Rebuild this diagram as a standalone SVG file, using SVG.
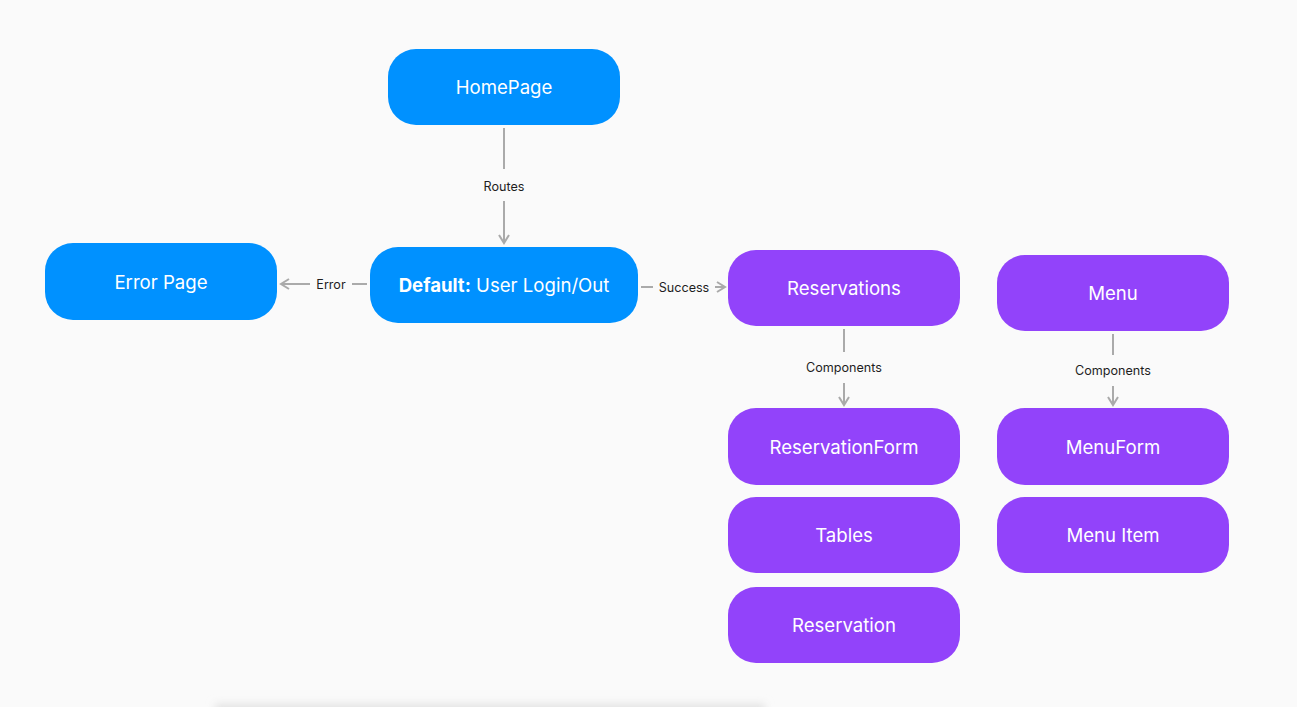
<svg xmlns="http://www.w3.org/2000/svg" width="1297" height="707" viewBox="0 0 1297 707">
<defs>
<style>
.blue{fill:#0091FF}
.purple{fill:#9243FA}
.nt{font-family:Inter,"Noto Sans",sans-serif;font-size:18.6px;fill:#FFFFFF;text-anchor:middle;dominant-baseline:central}
.lt{font-family:Inter,"Noto Sans",sans-serif;font-size:12.6px;fill:#1E1E1E;text-anchor:middle;dominant-baseline:central}
.ln{stroke:#AAAAAA;stroke-width:2;fill:none}
</style>
<marker id="ah" viewBox="0 0 12 12" refX="10" refY="6" markerWidth="12" markerHeight="12" markerUnits="userSpaceOnUse" orient="auto">
<path d="M2,1 L10,6 L2,11" fill="none" stroke="#AAAAAA" stroke-width="2"/>
</marker>
<filter id="blur" x="-10%" y="-200%" width="120%" height="500%">
<feGaussianBlur stdDeviation="4"/>
</filter>
</defs>
<rect width="1297" height="707" fill="#FAFAFA"/>
<rect x="215" y="704" width="550" height="12" fill="#E2E2E2" filter="url(#blur)"/>
<g id="connectors">
<line class="ln" x1="504" y1="128" x2="504" y2="169"/>
<line class="ln" x1="504" y1="201" x2="504" y2="243" marker-end="url(#ah)"/>
<text class="lt" x="504" y="186">Routes</text>
<line class="ln" x1="367" y1="284" x2="352" y2="284"/>
<line class="ln" x1="310" y1="284" x2="281" y2="284" marker-end="url(#ah)"/>
<text class="lt" x="331" y="284">Error</text>
<line class="ln" x1="641" y1="287" x2="653" y2="287"/>
<line class="ln" x1="715" y1="287" x2="725" y2="287" marker-end="url(#ah)"/>
<text class="lt" x="684" y="287">Success</text>
<line class="ln" x1="844" y1="329" x2="844" y2="352"/>
<line class="ln" x1="844" y1="383" x2="844" y2="405" marker-end="url(#ah)"/>
<text class="lt" x="844" y="367">Components</text>
<line class="ln" x1="1113" y1="334" x2="1113" y2="355"/>
<line class="ln" x1="1113" y1="386" x2="1113" y2="405" marker-end="url(#ah)"/>
<text class="lt" x="1113" y="370">Components</text>
</g>
<g id="homepage"><rect class="blue" x="388" y="49" width="232" height="76" rx="28"/><text class="nt" x="504" y="87">HomePage</text></g>
<g id="default"><rect class="blue" x="370" y="247" width="268" height="76" rx="28"/><text class="nt" x="504" y="285"><tspan font-weight="bold">Default:</tspan> User Login/Out</text></g>
<g id="errorpage"><rect class="blue" x="45" y="243" width="232" height="77" rx="28"/><text class="nt" x="161" y="282">Error Page</text></g>
<g id="reservations"><rect class="purple" x="728" y="250" width="232" height="76" rx="28"/><text class="nt" x="844" y="288">Reservations</text></g>
<g id="menu"><rect class="purple" x="997" y="255" width="232" height="76" rx="28"/><text class="nt" x="1113" y="293">Menu</text></g>
<g id="reservationform"><rect class="purple" x="728" y="408" width="232" height="77" rx="28"/><text class="nt" x="844" y="447">ReservationForm</text></g>
<g id="menuform"><rect class="purple" x="997" y="408" width="232" height="77" rx="28"/><text class="nt" x="1113" y="447">MenuForm</text></g>
<g id="tables"><rect class="purple" x="728" y="497" width="232" height="76" rx="28"/><text class="nt" x="844" y="535">Tables</text></g>
<g id="menuitem"><rect class="purple" x="997" y="497" width="232" height="76" rx="28"/><text class="nt" x="1113" y="535">Menu Item</text></g>
<g id="reservation"><rect class="purple" x="728" y="587" width="232" height="76" rx="28"/><text class="nt" x="844" y="625">Reservation</text></g>
</svg>
